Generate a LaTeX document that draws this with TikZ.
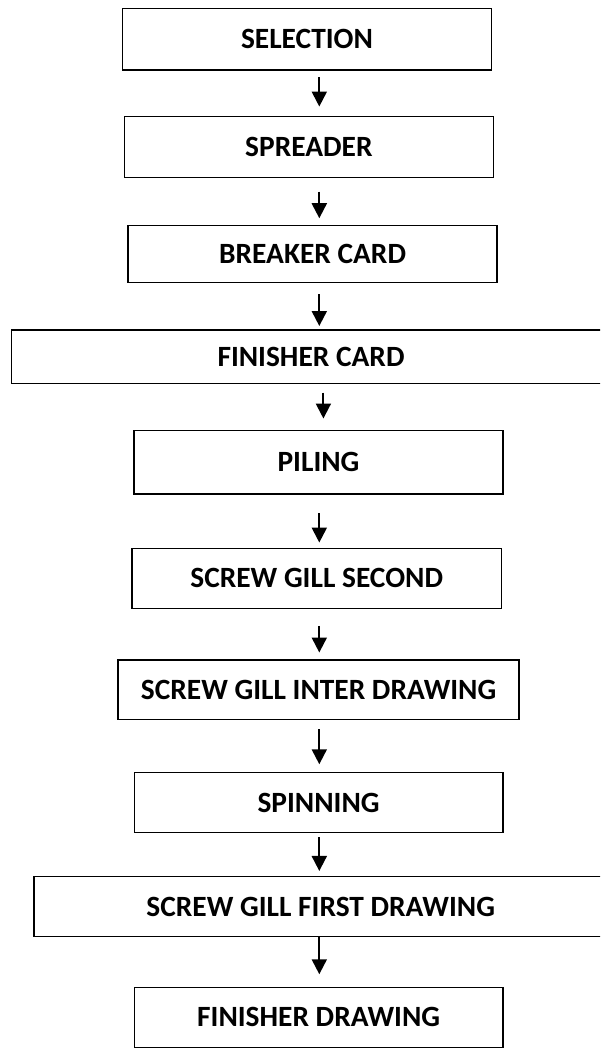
\documentclass[tikz,border=0pt]{standalone}
\usepackage{fontspec}
\setmainfont{Carlito}
\usetikzlibrary{arrows.meta}
\tikzset{
  stepbox/.style={draw=black, line width=1.5pt, rectangle, inner sep=0pt,
    font=\fontsize{29.4}{34}\selectfont\bfseries, text=black},
  flowarrow/.style={draw=black, line width=2pt, -{Triangle[length=15pt,width=15pt]}}
}
\begin{document}
\begin{tikzpicture}[x=1pt,y=-1pt]
\useasboundingbox (0,0) rectangle (600,1048);
\clip (0,0) rectangle (600,1048);
\fill[white] (0,0) rectangle (600,1048);
\node[stepbox, minimum width=369pt, minimum height=61.7pt] (b1) at (307,39.2) {SELECTION};
\node[stepbox, minimum width=369pt, minimum height=61pt] (b2) at (308.9,147.2) {SPREADER};
\node[stepbox, minimum width=368.8pt, minimum height=57.4pt] (b3) at (312.6,254) {BREAKER CARD};
\node[stepbox, minimum width=599pt, minimum height=53.3pt] (b4) at (311,356.7) {FINISHER CARD};
\node[stepbox, minimum width=369pt, minimum height=63.3pt] (b5) at (318.5,462.3) {PILING};
\node[stepbox, minimum width=369.4pt, minimum height=60pt] (b6) at (316.7,578.3) {SCREW GILL SECOND};
\node[stepbox, minimum width=401pt, minimum height=59.3pt] (b7) at (318.6,689.6) {SCREW GILL INTER DRAWING};
\node[stepbox, minimum width=368.7pt, minimum height=60.4pt] (b8) at (318.6,802.5) {SPINNING};
\node[stepbox, minimum width=573.4pt, minimum height=60pt] (b9) at (320.7,906.7) {SCREW GILL FIRST DRAWING};
\node[stepbox, minimum width=368.7pt, minimum height=60.2pt] (b10) at (318.6,1017.4) {FINISHER DRAWING};
\coordinate (ax) at (319.3,0);
\coordinate (axb) at (323.4,0);
\draw[flowarrow, shorten <=6.7pt, shorten >=9.4pt] (b1.south -| ax) -- (b2.north -| ax);
\draw[flowarrow, shorten <=13.3pt, shorten >=6.3pt] (b2.south -| ax) -- (b3.north -| ax);
\draw[flowarrow, shorten <=10.6pt, shorten >=3.3pt] (b3.south -| ax) -- (b4.north -| ax);
\draw[flowarrow, shorten <=8.4pt, shorten >=11.4pt] (b4.south -| axb) -- (b5.north -| axb);
\draw[flowarrow, shorten <=18.7pt, shorten >=5pt] (b5.south -| ax) -- (b6.north -| ax);
\draw[flowarrow, shorten <=16.7pt, shorten >=6.7pt] (b6.south -| ax) -- (b7.north -| ax);
\draw[flowarrow, shorten <=9pt, shorten >=7.3pt] (b7.south -| ax) -- (b8.north -| ax);
\draw[flowarrow, shorten <=4pt, shorten >=5pt] (b8.south -| ax) -- (b9.north -| ax);
\draw[flowarrow, shorten >=12.3pt] (b9.south -| ax) -- (b10.north -| ax);
\end{tikzpicture}
\end{document}
